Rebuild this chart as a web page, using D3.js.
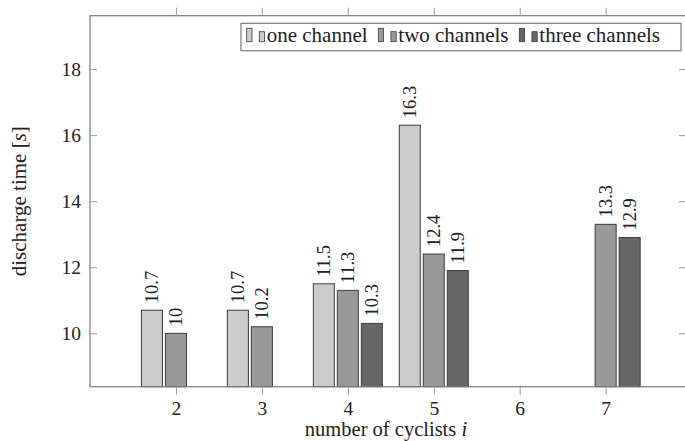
<!DOCTYPE html>
<html>
<head>
<meta charset="utf-8">
<script src="https://cdn.jsdelivr.net/npm/d3@7"></script>
</head>
<body style="margin:0; background:white">
<div id="chart"></div>
<script>
const categories = [2, 3, 4, 5, 6, 7];
const oneChannel = [10.7, 10.7, 11.5, 16.3, null, null];
const twoChannels = [10, 10.2, 11.3, 12.4, null, 13.3];
const threeChannels = [null, null, 10.3, 11.9, null, 12.9];
const seriesNames = ['one channel', 'two channels', 'three channels'];
const yTicks = [10, 12, 14, 16, 18];

const width = 685, height = 441;
const plotLeft = 90, plotRight = 686, plotTop = 15.7, plotBottom = 386.7;
const serifFont = '"Liberation Serif"';
const textColor = '#222';

const series = [oneChannel, twoChannels, threeChannels].map((values, i) => ({
  name: seriesNames[i],
  values: values
}));

const colors = d3.scaleOrdinal()
    .domain(seriesNames)
    .range(['#cbcbcb', '#999999', '#666666']);

const x = d3.scaleLinear().domain([1, 7.935]).range([plotLeft, plotRight]);
const y = d3.scaleLinear().domain([8.385, 19.615]).range([plotBottom, plotTop]);

const barWidth = 21, barStep = 24;

const svg = d3.select('#chart')
    .append('svg')
    .attr('width', width)
    .attr('height', height);

// bars
series.forEach((s, i) => {
  const offset = (i - 1) * barStep;
  const g = svg.append('g');
  const rows = categories
      .map((c, j) => ({cat: c, value: s.values[j]}))
      .filter(d => d.value !== null);

  g.selectAll('rect')
      .data(rows)
      .enter()
      .append('rect')
      .attr('x', d => x(d.cat) + offset - barWidth / 2)
      .attr('y', d => y(d.value))
      .attr('width', barWidth)
      .attr('height', d => plotBottom - y(d.value))
      .attr('fill', colors(s.name))
      .attr('stroke', '#3c3c3c')
      .attr('stroke-width', 1);

  g.selectAll('.label')
      .data(rows)
      .enter()
      .append('text')
      .attr('class', 'label')
      .attr('transform', d => `translate(${x(d.cat) + offset},${y(d.value) - 7}) rotate(-90)`)
      .attr('dy', '0.35em')
      .attr('font-family', serifFont)
      .attr('font-size', 18.5)
      .attr('fill', textColor)
      .text(d => d.value);
});

// frame
svg.append('rect')
    .attr('x', plotLeft)
    .attr('y', plotTop)
    .attr('width', plotRight - plotLeft)
    .attr('height', plotBottom - plotTop)
    .attr('fill', 'none')
    .attr('stroke', '#7a7a7a')
    .attr('stroke-width', 1.2);

// x ticks, outside on bottom and top
const xAxisBottom = d3.axisBottom(x).tickValues(categories).tickFormat(d3.format('d')).tickSize(8).tickPadding(6);
const xAxisTop = d3.axisTop(x).tickValues(categories).tickSize(8).tickFormat('');
svg.append('g').attr('transform', `translate(0,${plotBottom})`).call(xAxisBottom);
svg.append('g').attr('transform', `translate(0,${plotTop})`).call(xAxisTop);

// y ticks, inside on left and right
const yAxisLeft = d3.axisLeft(y).tickValues(yTicks).tickSize(-7).tickPadding(9);
const yAxisRight = d3.axisRight(y).tickValues(yTicks).tickSize(-7).tickFormat('');
svg.append('g').attr('transform', `translate(${plotLeft},0)`).call(yAxisLeft);
svg.append('g').attr('transform', `translate(${plotRight},0)`).call(yAxisRight);

svg.selectAll('.domain').remove();
svg.selectAll('.tick line').attr('stroke', '#9a9a9a').attr('stroke-width', 1);
svg.selectAll('.tick text')
    .attr('font-family', serifFont)
    .attr('font-size', 19.5)
    .attr('fill', textColor);

// axis titles
svg.append('text')
    .attr('x', (plotLeft + plotRight) / 2 - 2)
    .attr('y', 435.5)
    .attr('text-anchor', 'middle')
    .attr('font-family', serifFont)
    .attr('font-size', 20.5)
    .attr('fill', textColor)
    .html('number of cyclists <tspan font-style="italic">i</tspan>');

svg.append('text')
    .attr('transform', `translate(26,${(plotTop + plotBottom) / 2}) rotate(-90)`)
    .attr('text-anchor', 'middle')
    .attr('font-family', serifFont)
    .attr('font-size', 21)
    .attr('fill', textColor)
    .html('discharge time [<tspan font-style="italic">s</tspan>]');

// legend
const legend = svg.append('g');
legend.append('rect')
    .attr('x', 241)
    .attr('y', 23.3)
    .attr('width', 440)
    .attr('height', 27.4)
    .attr('fill', 'white')
    .attr('stroke', '#7a7a7a')
    .attr('stroke-width', 1.2);

const legendX = [246.7, 378.3, 519.3];
seriesNames.forEach((name, i) => {
  const lx = legendX[i];
  legend.append('rect')
      .attr('x', lx).attr('y', 28.3)
      .attr('width', 5.3).attr('height', 13.4)
      .attr('fill', colors(name)).attr('stroke', '#3c3c3c').attr('stroke-width', 0.8);
  legend.append('rect')
      .attr('x', lx + 12.6).attr('y', 31.7)
      .attr('width', 5.3).attr('height', 10)
      .attr('fill', colors(name)).attr('stroke', '#3c3c3c').attr('stroke-width', 0.8);
  legend.append('text')
      .attr('x', lx + 20)
      .attr('y', 42)
      .attr('font-family', serifFont)
      .attr('font-size', 21)
      .attr('fill', textColor)
      .text(name);
});
</script>
</body>
</html>
